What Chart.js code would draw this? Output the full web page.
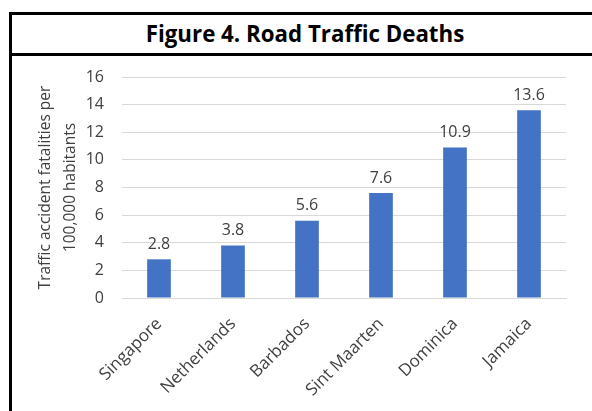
<!DOCTYPE html>
<html>
<head>
<meta charset="utf-8">
<script src="https://cdn.jsdelivr.net/npm/chart.js@4.4.0/dist/chart.umd.min.js"></script>
<style>
  body { margin: 0; background: #fff; font-family: "Open Sans", sans-serif; }
  #marco {
    position: absolute; left: 9px; top: 12px; width: 640px; height: 430px;
    border-left: 3px solid #000; border-top: 3px solid #000;
  }
  #titulo {
    position: absolute; left: 0; top: 0; width: 586px; height: 38px;
    border-bottom: 3px solid #000;
    text-align: center; line-height: 38px;
    font-weight: bold; font-size: 22.3px; color: #000;
  }
  #caja { position: absolute; left: 0; top: 56px; width: 592px; height: 355px; }
</style>
</head>
<body>
<div id="marco"><div id="titulo">Figure 4. Road Traffic Deaths</div></div>
<div id="caja"><canvas id="grafico"></canvas></div>
<script>
// datos de la figura
const paises = ['Singapore', 'Netherlands', 'Barbados', 'Sint Maarten', 'Dominica', 'Jamaica'];
const muertes = [2.8, 3.8, 5.6, 7.6, 10.9, 13.6];
const tituloEje = ['Traffic accident fatalities per', '100,000 habitants'];

const colorTexto = '#404040';
const fuente = '"Open Sans", sans-serif';

// escribe el valor encima de cada barra
const etiquetas = {
  id: 'etiquetas',
  afterDatasetsDraw(chart) {
    const ctx = chart.ctx;
    const meta = chart.getDatasetMeta(0);
    ctx.save();
    ctx.font = '16px ' + fuente;
    ctx.fillStyle = colorTexto;
    ctx.textAlign = 'center';
    ctx.textBaseline = 'bottom';
    meta.data.forEach((barra, i) => {
      ctx.fillText(muertes[i].toFixed(1), barra.x, barra.y - 7);
    });
    ctx.restore();
  }
};

const ctx = document.getElementById('grafico').getContext('2d');
const chart = new Chart(ctx, {
  type: 'bar',
  data: {
    labels: paises,
    datasets: [{
      data: muertes,
      backgroundColor: '#4472C4',
      categoryPercentage: 1,
      barPercentage: 0.32
    }]
  },
  options: {
    responsive: true,
    maintainAspectRatio: false,
    animation: false,
    layout: { padding: { left: 0, right: 26, top: 21, bottom: 0 } },
    plugins: { legend: { display: false }, tooltip: { enabled: false } },
    scales: {
      x: {
        grid: { display: false, drawTicks: false },
        border: { color: '#d9d9d9', width: 1 },
        ticks: {
          color: colorTexto, font: { family: fuente, size: 17 },
          maxRotation: 45, minRotation: 45, padding: 16
        },
        afterFit(scale) {
          scale.height = 113;
          scale.paddingLeft = 0; scale.paddingRight = 0;
        }
      },
      y: {
        min: 0, max: 16,
        ticks: { stepSize: 2, color: colorTexto, font: { family: fuente, size: 16 }, padding: 18 },
        grid: { color: '#d9d9d9', drawTicks: false },
        border: { display: false },
        title: {
          display: true, text: tituloEje, color: colorTexto,
          font: { family: fuente, size: 15.5, lineHeight: 1.6 },
          padding: { top: 33, bottom: 0 }
        },
        afterFit(scale) {
          scale.width = 122;
          scale.paddingTop = 0; scale.paddingBottom = 0;
        }
      }
    }
  },
  plugins: [etiquetas]
});
</script>
</body>
</html>
